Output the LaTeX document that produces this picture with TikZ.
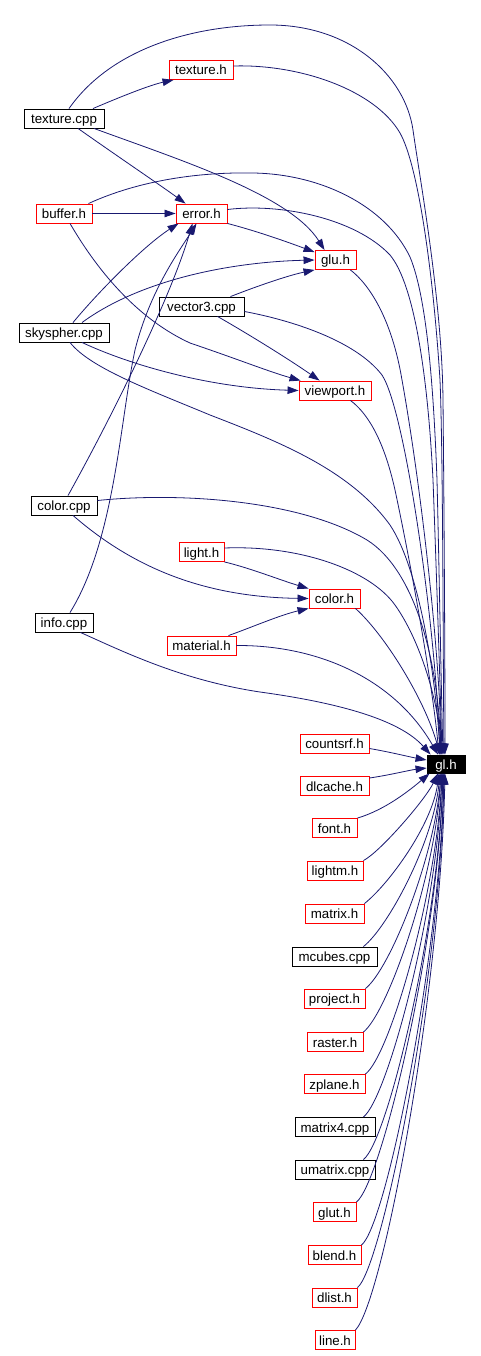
\documentclass[tikz,border=0pt]{standalone}
\usepackage{fontspec}
\setmainfont{Liberation Sans}
\usetikzlibrary{arrows.meta}
\definecolor{edgecol}{HTML}{191970}
\tikzset{
  filebox/.style={draw, line width=0.9pt, minimum height=19pt, inner sep=0pt, text height=11.5pt, text depth=1.5pt, font=\fontsize{13.3}{15}\selectfont},
  hfile/.style={filebox, draw=red},
  cfile/.style={filebox, draw=black},
  dep/.style={draw=edgecol, line width=0.8pt, -{Triangle[length=11pt,width=7.5pt]}},
}
\begin{document}
\begin{tikzpicture}[x=1pt,y=-1pt]
\useasboundingbox (0,0) rectangle (481,1356);
% nodes
\node[hfile, minimum width=64] (texth) at (201,70) {texture.h};
\node[cfile, minimum width=80] (tcpp) at (64,118.5) {texture.cpp};
\node[hfile, minimum width=56] (buffer) at (64,213.5) {buffer.h};
\node[hfile, minimum width=51] (error) at (201.5,213.5) {error.h};
\node[hfile, minimum width=41] (glu) at (335.5,260) {glu.h};
\node[cfile, minimum width=85] (vec) at (201.5,306.5) {vector3.cpp};
\node[cfile, minimum width=90] (sky) at (64,332.5) {skyspher.cpp};
\node[hfile, minimum width=72] (vp) at (335,390.5) {viewport.h};
\node[cfile, minimum width=66] (ccpp) at (64,505.5) {color.cpp};
\node[hfile, minimum width=45] (light) at (201.5,552) {light.h};
\node[hfile, minimum width=51] (colorh) at (334.5,598.5) {color.h};
\node[cfile, minimum width=58] (info) at (64,622.5) {info.cpp};
\node[hfile, minimum width=69] (mat) at (201.5,645.5) {material.h};
\node[filebox, fill=black, text=white, minimum width=38, minimum height=18pt] (gl) at (446,764) {gl.h};
\node[hfile, minimum width=69] (countsrf) at (334.5,743.5) {countsrf.h};
\node[hfile, minimum width=69] (dlcache) at (334.5,786) {dlcache.h};
\node[hfile, minimum width=45] (font) at (334.5,828) {font.h};
\node[hfile, minimum width=56] (lightm) at (335,870.5) {lightm.h};
\node[hfile, minimum width=59] (matrixh) at (334.5,913.5) {matrix.h};
\node[cfile, minimum width=85] (mcubes) at (334.5,956.5) {mcubes.cpp};
\node[hfile, minimum width=61] (project) at (334.5,998.5) {project.h};
\node[hfile, minimum width=56] (raster) at (335,1042) {raster.h};
\node[hfile, minimum width=61] (zplane) at (334.5,1084) {zplane.h};
\node[cfile, minimum width=80] (matrixf) at (335,1127) {matrix4.cpp};
\node[cfile, minimum width=80] (umatrix) at (335,1169.5) {umatrix.cpp};
\node[hfile, minimum width=43] (glut) at (334.5,1212) {glut.h};
\node[hfile, minimum width=53] (blend) at (334.5,1255) {blend.h};
\node[hfile, minimum width=45] (dlist) at (334.5,1297.5) {dlist.h};
\node[hfile, minimum width=40] (line) at (335,1340) {line.h};

% edges among upper nodes
\draw[dep] ([xshift=29pt]tcpp.north) .. controls (120,97) and (150,85) .. ([xshift=5pt]texth.south west);
\draw[dep] ([xshift=14pt]tcpp.south) .. controls (120,158) and (160,185) .. ([xshift=10pt]error.north west);
\draw[dep] ([xshift=30pt]tcpp.south) .. controls (180,160) and (290,195) .. ([xshift=10pt]glu.north west);
\draw[dep] (buffer.east) -- (error.west);
\draw[dep] (error.south east) .. controls (260,232) and (290,243) .. ([yshift=-2pt]glu.north west);
\draw[dep] ([xshift=6pt]buffer.south) .. controls (100,275) and (140,320) .. (190,343) .. controls (240,360) and (270,372) .. ([xshift=2pt]vp.north west);
\draw[dep] ([xshift=9pt]sky.north) .. controls (100,290) and (145,245) .. ([xshift=3pt]error.south west);
\draw[dep] ([xshift=18pt]sky.north) .. controls (140,280) and (230,262) .. (glu.west);
\draw[dep] ([xshift=18pt]sky.south) .. controls (130,365) and (210,388) .. (vp.west);
\draw[dep] ([xshift=29pt]vec.north) .. controls (260,285) and (290,275) .. (glu.south west);
\draw[dep] ([xshift=16pt]vec.south) .. controls (250,335) and (290,360) .. ([xshift=21pt]vp.north west);
\draw[dep] ([xshift=4pt]ccpp.north) .. controls (110,420) and (170,300) .. ([xshift=-9pt]error.south);
\draw[dep] ([xshift=6pt]info.north) .. controls (115,540) and (120,420) .. (135,350) .. controls (150,290) and (180,250) .. ([xshift=-5pt]error.south);
\draw[dep] ([xshift=9pt]ccpp.south) .. controls (130,565) and (200,597) .. (colorh.west);
\draw[dep] (light.south east) .. controls (250,568) and (280,580) .. (colorh.north west);
\draw[dep] ([xshift=-8pt]mat.north east) .. controls (250,628) and (280,615) .. (colorh.south west);

% edges into gl.h from above
\draw[dep] ([xshift=5pt]tcpp.north) .. controls (110,50) and (190,25) .. (270,25) .. controls (350,25) and (405,75) .. (413,130) .. controls (420,180) and (442,300) .. (443,400) .. controls (444,500) and (445,650) .. ([xshift=-1pt]gl.north);
\draw[dep] ([yshift=4pt]texth.east) .. controls (300,64) and (375,90) .. (400,133) .. controls (418,165) and (433,270) .. (440,380) .. controls (443,450) and (443,650) .. ([xshift=-2pt]gl.north);
\draw[dep] ([xshift=-4pt]buffer.north east) .. controls (140,180) and (200,172) .. (253,173) .. controls (320,174) and (385,205) .. (410,257) .. controls (428,300) and (434,400) .. (437,480) .. controls (439,560) and (441,680) .. ([xshift=-3pt]gl.north);
\draw[dep] ([yshift=4pt]error.east) .. controls (280,203) and (355,218) .. (390,255) .. controls (415,285) and (428,380) .. (433,480) .. controls (436,560) and (440,680) .. ([xshift=-4pt]gl.north);
\draw[dep] ([xshift=-6pt]glu.south east) .. controls (370,285) and (392,320) .. (402,380) .. controls (420,480) and (440,650) .. ([xshift=-5pt]gl.north);
\draw[dep] ([yshift=-5pt]vec.east) .. controls (290,320) and (355,340) .. (382,375) .. controls (405,410) and (435,620) .. ([xshift=-6pt]gl.north);
\draw[dep] ([xshift=-21pt]vp.south east) .. controls (370,415) and (385,445) .. (395,490) .. controls (410,560) and (432,680) .. ([xshift=-7pt]gl.north);
\draw[dep] ([xshift=6pt]sky.south) .. controls (90,368) and (150,390) .. (210,415) .. controls (280,442) and (350,470) .. (390,525) .. controls (420,570) and (436,680) .. ([xshift=-6pt]gl.north);
\draw[dep] ([yshift=5pt]ccpp.east) .. controls (180,492) and (300,500) .. (367,540) .. controls (415,570) and (438,660) .. ([xshift=-5pt]gl.north);
\draw[dep] ([yshift=4pt]light.east) .. controls (300,545) and (370,570) .. (395,605) .. controls (420,640) and (438,700) .. ([xshift=-4pt]gl.north);
\draw[dep] ([xshift=-5pt]colorh.south east) .. controls (385,635) and (425,700) .. ([xshift=-6pt]gl.north);
\draw[dep] (mat.east) .. controls (320,645) and (395,680) .. ([xshift=-8pt]gl.north);
\draw[dep] ([xshift=-13pt]info.south east) .. controls (120,650) and (180,680) .. (260,692) .. controls (340,703) and (400,720) .. ([xshift=4pt]gl.north west);

% edges into gl.h from the left
\draw[dep] ([yshift=-5pt]countsrf.east) .. controls (390,752) and (410,757) .. ([yshift=4pt]gl.west);
\draw[dep] ([yshift=8pt]dlcache.east) .. controls (390,775) and (410,770) .. ([yshift=-4pt]gl.west);

% edges into gl.h from below
\draw[dep] (font.north east) .. controls (385,810) and (410,790) .. ([xshift=3pt]gl.south west);
\draw[dep] (lightm.north east) .. controls (380,852) and (425,800) .. ([xshift=-8pt]gl.south);
\draw[dep] (matrixh.north east) .. controls (389,884) and (432,825) .. ([xshift=-7pt]gl.south);
\draw[dep] ([xshift=-14pt]mcubes.north east) .. controls (388,927) and (433,843) .. ([xshift=-6pt]gl.south);
\draw[dep] (project.north east) .. controls (390,969) and (434,859) .. ([xshift=-5pt]gl.south);
\draw[dep] (raster.north east) .. controls (388,1012) and (435,877) .. ([xshift=-5pt]gl.south);
\draw[dep] (zplane.north east) .. controls (390,1055) and (436,894) .. ([xshift=-4pt]gl.south);
\draw[dep] ([xshift=-12pt]matrixf.north east) .. controls (388,1097) and (437,911) .. ([xshift=-4pt]gl.south);
\draw[dep] ([xshift=-12pt]umatrix.north east) .. controls (388,1140) and (438,928) .. ([xshift=-3pt]gl.south);
\draw[dep] (glut.north east) .. controls (381,1183) and (438,945) .. ([xshift=-3pt]gl.south);
\draw[dep] (blend.north east) .. controls (386,1226) and (439,962) .. ([xshift=-2pt]gl.south);
\draw[dep] (dlist.north east) .. controls (382,1268) and (440,979) .. ([xshift=-2pt]gl.south);
\draw[dep] (line.north east) .. controls (383,1301) and (440,996) .. ([xshift=-1pt]gl.south);
\end{tikzpicture}
\end{document}
